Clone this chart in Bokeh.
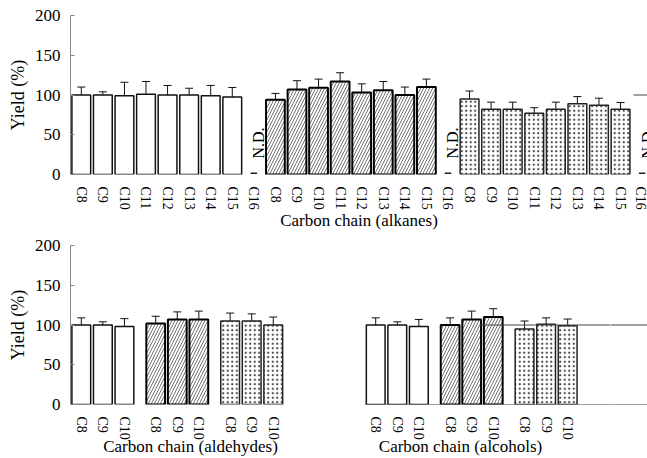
import math
from bokeh.plotting import figure
from bokeh.models import ColumnDataSource, Whisker, TeeHead, FixedTicker, Range1d
from bokeh.layouts import column, row
from bokeh.embed import file_html
from bokeh.resources import INLINE
from bokeh.core.properties import value

# ---------------- data ----------------
alk_chain = ["C8", "C9", "C10", "C11", "C12", "C13", "C14", "C15", "C16"]
alk_white = [100, 100, 99, 101, 100, 100, 99, 97.5, None]
alk_white_err = [10, 4, 17, 16, 12, 8.5, 13, 12, None]
alk_hatch = [94, 107, 109, 117, 103, 106, 100, 110, None]
alk_hatch_err = [8, 11, 11, 11, 11, 11, 10, 10, None]
alk_dot = [95, 82, 82, 77, 82, 89, 87, 82, None]
alk_dot_err = [10, 9, 9, 7, 9, 9, 9, 8.5, None]

short_chain = ["C8", "C9", "C10"]
ald_white = [100, 100, 98]
ald_white_err = [9, 4, 10]
ald_hatch = [102, 107, 107]
ald_hatch_err = [9, 9.5, 10.5]
ald_dot = [105, 105, 100]
ald_dot_err = [10, 9, 10]

alc_white = [100, 100, 98]
alc_white_err = [9, 4, 9]
alc_hatch = [100, 107, 110]
alc_hatch_err = [9, 10.5, 10.5]
alc_dot = [95, 101, 99]
alc_dot_err = [10, 8, 8.5]

y_ticks = [0, 50, 100, 150, 200]
x_title_top = "Carbon chain (alkanes)"
x_title_ald = "Carbon chain (aldehydes)"
x_title_alc = "Carbon chain (alcohols)"
y_title = "Yield (%)"
nd_text = "N.D."

# ---------------- styles ----------------
FONT = "Liberation Serif"
STYLES = {
    "white": dict(fill_color="white", line_color="#111111", line_width=1.5),
    "hatch": dict(fill_color="white", hatch_pattern="/", hatch_color="#333333",
                  hatch_scale=6, hatch_weight=0.7, line_color="#000000", line_width=2),
    "dot": dict(fill_color="white", hatch_pattern=".", hatch_color="#444444",
                hatch_scale=4.5, hatch_weight=1, line_color="#222222", line_width=1.5),
}
BAR_W = 0.87
SLOT_PX = 21.57              # pixels per slot
FRAME_W = 577                # frame width (page x 70 -> 647)
XMAX = FRAME_W / SLOT_PX
SPLIT = 240 / SLOT_PX        # bottom row: aldehyde | alcohol panels
SPLIT2 = 540 / SLOT_PX       # bottom row: alcohol | filler panel


def make_fig(width, height, top, bottom, x0, x1, left=70, yaxis=True, xaxis=True,
             label_standoff=-3):
    p = figure(width=width, height=height, x_range=Range1d(x0, x1), y_range=Range1d(0, 200),
               output_backend="svg", toolbar_location=None,
               y_axis_location="left" if yaxis else None,
               x_axis_location="below" if xaxis else None,
               min_border_left=left, min_border_right=0, min_border_top=top,
               min_border_bottom=bottom)
    p.xgrid.visible = False
    p.ygrid.visible = False
    p.outline_line_color = None
    p.background_fill_color = "white"
    p.border_fill_color = "white"
    if yaxis:
        ya = p.yaxis[0]
        ya.ticker = FixedTicker(ticks=y_ticks)
        ya.major_tick_in = 4
        ya.major_tick_out = 0
        ya.minor_tick_line_color = None
        ya.axis_line_color = "#888888"
        ya.major_tick_line_color = "#888888"
        ya.major_label_standoff = 10
        ya.major_label_text_font = FONT
        ya.major_label_text_font_size = "17px"
        ya.major_label_text_color = "black"
        ya.axis_label = y_title
        ya.axis_label_text_font = FONT
        ya.axis_label_text_font_size = "18px"
        ya.axis_label_text_font_style = "normal"
        ya.axis_label_text_color = "black"
        ya.axis_label_standoff = 4
    if xaxis:
        xa = p.xaxis[0]
        xa.axis_line_color = None
        xa.major_tick_line_color = None
        xa.major_tick_in = 0
        xa.major_tick_out = 0
        xa.minor_tick_line_color = None
        xa.minor_tick_out = 0
        xa.major_label_standoff = 12
        xa.major_label_orientation = -math.pi / 2
        xa.major_label_text_font = FONT
        xa.major_label_text_font_size = "14px"
        xa.major_label_text_color = "black"
        xa.axis_label_text_font = FONT
        xa.axis_label_text_font_size = "17px"
        xa.axis_label_text_font_style = "normal"
        xa.axis_label_text_color = "black"
        xa.axis_label_standoff = label_standoff
    return p


def draw_group(p, start, labels, vals, errs, style, ticks, overrides):
    xs, tops, ups, lows = [], [], [], []
    for i, (lab, v, e) in enumerate(zip(labels, vals, errs)):
        x = start + i + 0.5
        ticks.append(x)
        overrides[x] = lab
        if v is None:
            p.segment(x0=[x - 0.15], x1=[x + 0.15], y0=[1.5], y1=[1.5],
                      line_color="#222222", line_width=1.5)
            p.text(x=[x], y=[20], text=[nd_text], angle=math.pi / 2,
                   text_font=value(FONT), text_font_size="16px",
                   text_align="left", text_baseline="middle", x_offset=5,
                   text_color="black")
        else:
            xs.append(x)
            tops.append(v)
            ups.append(v + e)
            lows.append(v - e)
    src = ColumnDataSource(dict(x=xs, top=tops, upper=ups, lower=lows))
    p.vbar(x="x", top="top", bottom=0, width=BAR_W, source=src, **STYLES[style])
    w = Whisker(source=src, base="x", upper="upper", lower="lower", dimension="height",
                line_color="#111111", line_width=1,
                upper_head=TeeHead(size=8, line_color="#111111", line_width=1),
                lower_head=TeeHead(size=8, line_color="#111111", line_width=1))
    p.add_layout(w)


def finish_axis(p, ticks, overrides):
    p.xaxis[0].ticker = FixedTicker(ticks=ticks)
    p.xaxis[0].major_label_overrides = overrides


# ---------------- top panel (alkanes) ----------------
p1 = make_fig(647, 233, 15, 59, 0, XMAX, label_standoff=-2)
t1, o1 = [], {}
draw_group(p1, 0, alk_chain, alk_white, alk_white_err, "white", t1, o1)
draw_group(p1, 9, alk_chain, alk_hatch, alk_hatch_err, "hatch", t1, o1)
draw_group(p1, 18, alk_chain, alk_dot, alk_dot_err, "dot", t1, o1)
finish_axis(p1, t1, o1)
p1.segment(x0=[26.1], x1=[27.5], y0=[100], y1=[100], line_color="#444444", line_width=1)
p1.xaxis[0].axis_label = x_title_top

# ---------------- bottom left (aldehydes) ----------------
p2 = make_fig(310, 225, 12, 54, 0, SPLIT, label_standoff=-6)
t2, o2 = [], {}
draw_group(p2, 0, short_chain, ald_white, ald_white_err, "white", t2, o2)
draw_group(p2, 3.45, short_chain, ald_hatch, ald_hatch_err, "hatch", t2, o2)
draw_group(p2, 6.9, short_chain, ald_dot, ald_dot_err, "dot", t2, o2)
finish_axis(p2, t2, o2)
p2.xaxis[0].axis_label = x_title_ald

# ---------------- bottom middle (alcohols) ----------------
p3 = make_fig(300, 225, 12, 54, SPLIT, SPLIT2, left=0, yaxis=False, label_standoff=-6)
t3, o3 = [], {}
draw_group(p3, 13.65, short_chain, alc_white, alc_white_err, "white", t3, o3)
draw_group(p3, 17.1, short_chain, alc_hatch, alc_hatch_err, "hatch", t3, o3)
draw_group(p3, 20.55, short_chain, alc_dot, alc_dot_err, "dot", t3, o3)
finish_axis(p3, t3, o3)
p3.xaxis[0].axis_label = x_title_alc

# ---------------- bottom right filler (reference lines continue) ----------------
p4 = make_fig(37, 225, 12, 54, SPLIT2, XMAX, left=0, yaxis=False, xaxis=False)

for p in (p3, p4):
    p.segment(x0=[13.65], x1=[27.5], y0=[0], y1=[0], line_color="#444444", line_width=1)
    p.segment(x0=[19.0], x1=[27.5], y0=[100], y1=[100], line_color="#444444", line_width=1)

layout = column(p1, row(p2, p3, p4, spacing=0), spacing=0)
open("out.html", "w").write(file_html(layout, INLINE))
